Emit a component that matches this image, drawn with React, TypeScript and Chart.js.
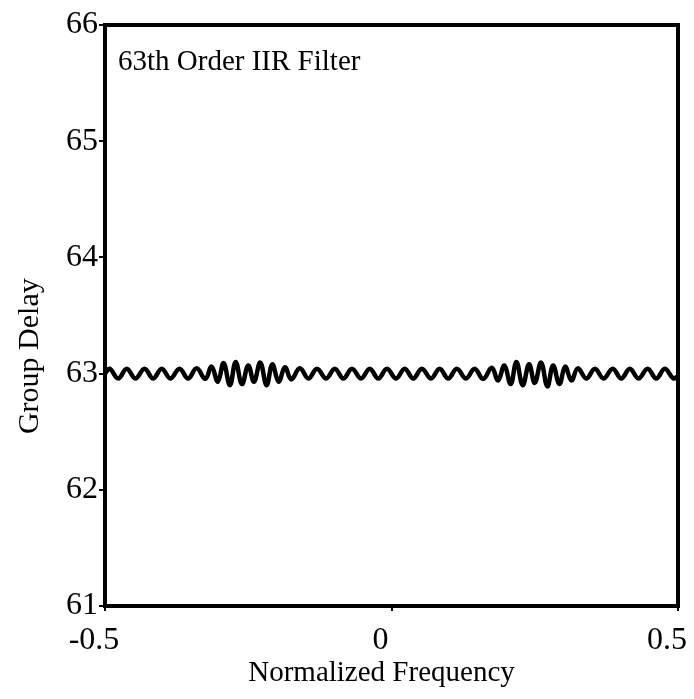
import { useEffect, useRef } from "react";
import { Chart, registerables } from "chart.js";

Chart.register(...registerables);

// Normalized frequency of each read-off extremum of the group-delay ripple
const freq = [
  -0.5, -0.492, -0.477, -0.462, -0.447, -0.431, -0.416, -0.401, -0.386, -0.37, -0.355, -0.34, -0.325,
  -0.314, -0.303, -0.293, -0.282, -0.272, -0.261, -0.25, -0.24, -0.229, -0.218, -0.208, -0.197, -0.186, -0.175,
  -0.16, -0.145, -0.13, -0.114, -0.099, -0.084, -0.069, -0.053, -0.038, -0.023, -0.008, 0.008, 0.023, 0.038,
  0.053, 0.069, 0.084, 0.099, 0.114, 0.13, 0.145, 0.16,
  0.175, 0.186, 0.197, 0.208, 0.218, 0.229, 0.24, 0.25, 0.261, 0.272, 0.282, 0.293, 0.303, 0.314,
  0.325, 0.34, 0.355, 0.37, 0.386, 0.401, 0.416, 0.431, 0.447, 0.462, 0.477, 0.492, 0.5,
];

// Group delay (samples) at those frequencies
const delay = [
  63.0, 63.042, 62.958, 63.042, 62.958, 63.042, 62.958, 63.042, 62.958, 63.042, 62.958, 63.045, 62.955,
  63.06, 62.93, 63.09, 62.9, 63.1, 62.91, 63.07, 62.93, 63.095, 62.9, 63.08, 62.93, 63.055, 62.95,
  63.045, 62.958, 63.042, 62.958, 63.042, 62.958, 63.042, 62.958, 63.042, 62.958, 63.042, 62.958, 63.042, 62.958,
  63.042, 62.958, 63.042, 62.958, 63.042, 62.958, 63.042, 62.955,
  63.05, 62.94, 63.07, 62.91, 63.1, 62.9, 63.08, 62.92, 63.095, 62.89, 63.07, 62.91, 63.06, 62.94,
  63.045, 62.958, 63.042, 62.958, 63.042, 62.958, 63.042, 62.958, 63.042, 62.958, 63.042, 62.958, 62.98,
];

const xTicks = [-0.5, 0, 0.5];
const yTicks = [61, 62, 63, 64, 65, 66];
const chartTitle = "63th Order IIR Filter";
const xTitle = "Normalized Frequency";
const yTitle = "Group Delay";

const FONT = '"Liberation Serif", "Times New Roman", serif';

const framePlugin = {
  id: "frame",
  afterDraw(chart: any) {
    const { ctx, chartArea: a } = chart;
    ctx.save();
    ctx.strokeStyle = "#000";
    ctx.lineWidth = 4;
    ctx.strokeRect(a.left, a.top, a.right - a.left, a.bottom - a.top);
    ctx.fillStyle = "#000";
    ctx.font = `29px ${FONT}`;
    ctx.textBaseline = "alphabetic";
    ctx.textAlign = "left";
    ctx.fillText(chartTitle, a.left + 13, a.top + 45);
    // x-axis title
    ctx.font = `29px ${FONT}`;
    ctx.textAlign = "center";
    ctx.textBaseline = "alphabetic";
    ctx.fillText(xTitle, (a.left + a.right) / 2 - 10, 681);
    // y-axis title, placed as in the reference (slightly below the plot centre)
    ctx.font = `30px ${FONT}`;
    ctx.translate(30, a.top + (a.bottom - a.top) * 0.57);
    ctx.rotate(-Math.PI / 2);
    ctx.textAlign = "center";
    ctx.textBaseline = "middle";
    ctx.fillText(yTitle, 0, 0);
    ctx.restore();
  },
};

export default function App() {
  const ref = useRef<HTMLCanvasElement | null>(null);

  useEffect(() => {
    if (!ref.current) return;
    const points = freq.map((f, i) => ({ x: f, y: delay[i] }));
    const chart = new Chart(ref.current, {
      type: "line",
      data: {
        datasets: [
          {
            data: points,
            borderColor: "#000",
            borderWidth: 4.5,
            pointRadius: 0,
            tension: 0.4,
            fill: false,
          },
        ],
      },
      options: {
        animation: false,
        responsive: false,
        devicePixelRatio: 1,
        layout: { padding: { top: 25, right: 16, left: 0, bottom: 0 } },
        plugins: { legend: { display: false }, tooltip: { enabled: false }, title: { display: false } },
        scales: {
          x: {
            type: "linear",
            min: -0.5,
            max: 0.5,
            afterBuildTicks: (s: any) => {
              s.ticks = xTicks.map((v) => ({ value: v }));
            },
            afterFit: (s: any) => {
              s.height = 93;
              s.paddingLeft = 0;
              s.paddingRight = 0;
            },
            ticks: {
              color: "#000",
              font: { family: FONT, size: 32 },
              padding: 10,
              labelOffset: -11,
              maxRotation: 0,
              autoSkip: false,
              callback: (v: any) => String(v),
            },
            grid: { drawOnChartArea: false, color: "#000", lineWidth: 2, tickLength: 5 },
            border: { display: false },
            title: { display: false },
          },
          y: {
            type: "linear",
            min: 61,
            max: 66,
            afterBuildTicks: (s: any) => {
              s.ticks = yTicks.map((v) => ({ value: v }));
            },
            afterFit: (s: any) => {
              s.width = 105;
              s.paddingTop = 0;
              s.paddingBottom = 0;
            },
            ticks: {
              color: "#000",
              font: { family: FONT, size: 32 },
              padding: 1,
              autoSkip: false,
            },
            grid: { drawOnChartArea: false, color: "#000", lineWidth: 2, tickLength: 6 },
            border: { display: false },
            title: { display: false },
          },
        },
      },
      plugins: [framePlugin],
    });
    return () => chart.destroy();
  }, []);

  return (
    <div style={{ position: "fixed", left: 0, top: 0, width: 694, height: 699, background: "#fff" }}>
      <canvas ref={ref} width={694} height={699} style={{ display: "block" }} />
    </div>
  );
}
